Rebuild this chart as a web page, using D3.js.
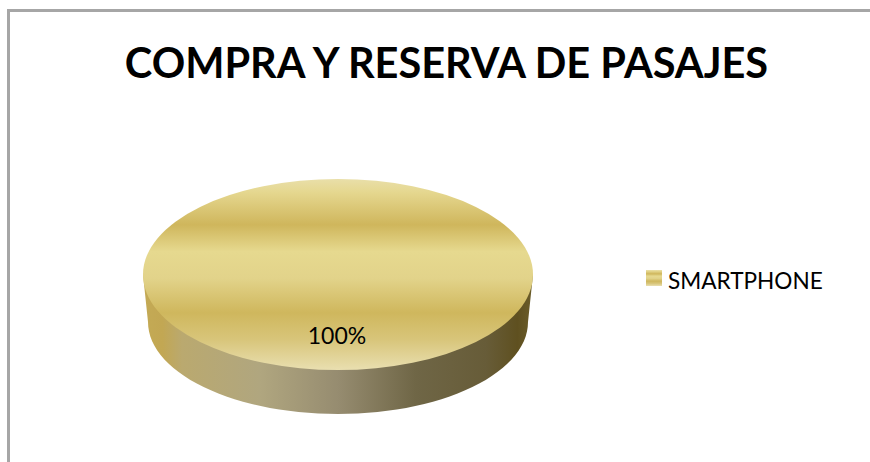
<!DOCTYPE html>
<html><head><meta charset="utf-8">
<script src="https://cdn.jsdelivr.net/npm/d3@7/dist/d3.min.js"></script>
<style>html,body{margin:0;padding:0;background:#fff}svg{display:block}text{font-family:Lato,"Open Sans",sans-serif;fill:#000}</style>
</head><body><script>
const titleText = "COMPRA Y RESERVA DE PASAJES";
const categories = ["SMARTPHONE"];
const values = [100];
const labels = ["100%"];

const svg = d3.select("body").append("svg").attr("width",870).attr("height",462);
const defs = svg.append("defs");

const goldStops = [[0,"#e9dfa9"],[0.07,"#e5d78f"],[0.24,"#cfb65c"],[0.38,"#e6d98f"],[0.52,"#e2d38a"],[0.70,"#cfb75d"],[0.84,"#d8c57a"],[1,"#e9dfb0"]];
function grad(id, stops, coords){
  const g = defs.append("linearGradient").attr("id",id);
  Object.entries(coords).forEach(([k,v])=>g.attr(k,v));
  stops.forEach(s=>g.append("stop").attr("offset",s[0]).attr("stop-color",s[1]));
}
grad("top",goldStops,{x1:0,y1:0,x2:0,y2:1});
grad("legendFill",goldStops,{x1:0,y1:0,x2:0,y2:1});
grad("side",[[0,"#c4aa55"],[0.05,"#c2a753"],[0.10,"#baa96f"],[0.3,"#b0a67f"],[0.5,"#968c70"],[0.7,"#6f6646"],[0.88,"#675c38"],[0.96,"#5f5020"],[1,"#6b5d2a"]],
  {gradientUnits:"userSpaceOnUse",x1:143,y1:0,x2:533,y2:0});

svg.append("path").attr("d","M8.5,462V10.5H870").attr("fill","none").attr("stroke","#a6a6a6").attr("stroke-width",3);

const cx = 338, cy = 274.5, rx = 195, ry = 95.5;
const bottom = {cy:322, rx:190, ry:92};
const pie = d3.pie().sort(null)(values);
const rScale = d3.scaleLinear().domain([0,1]).range([0,rx]);
const arc = d3.arc().innerRadius(0).outerRadius(rScale(1));

// side wall: outline joining the top rim to the narrower lower rim
const lowerRim = d3.range(0,181,3).map(a=>{
  const t = a*Math.PI/180;
  return [cx + bottom.rx*Math.cos(t), bottom.cy + bottom.ry*Math.sin(t)];
});
const wallPts = [[cx+rx,cy],...lowerRim,[cx-rx,cy]];
svg.append("path").attr("d",d3.line()(wallPts)+"Z").attr("fill","url(#side)");

// top face
svg.selectAll("path.slice").data(pie).join("path").attr("class","slice").attr("d",arc)
  .attr("transform",`translate(${cx},${cy}) scale(1,${ry/rx})`).attr("fill","url(#top)");

svg.selectAll("text.lab").data(labels).join("text").attr("class","lab")
  .attr("x",337).attr("y",344).attr("text-anchor","middle").attr("font-size",23).text(d=>d);

svg.append("text").attr("x",446.5).attr("y",78).attr("text-anchor","middle")
  .attr("font-size",41.5).attr("font-weight",700).text(titleText);

const legend = svg.selectAll("g.leg").data(categories).join("g").attr("class","leg");
legend.append("rect").attr("x",646).attr("y",270).attr("width",16).attr("height",16).attr("fill","url(#legendFill)");
legend.append("text").attr("x",668).attr("y",289).attr("font-size",22.6).text(d=>d);
</script></body></html>
